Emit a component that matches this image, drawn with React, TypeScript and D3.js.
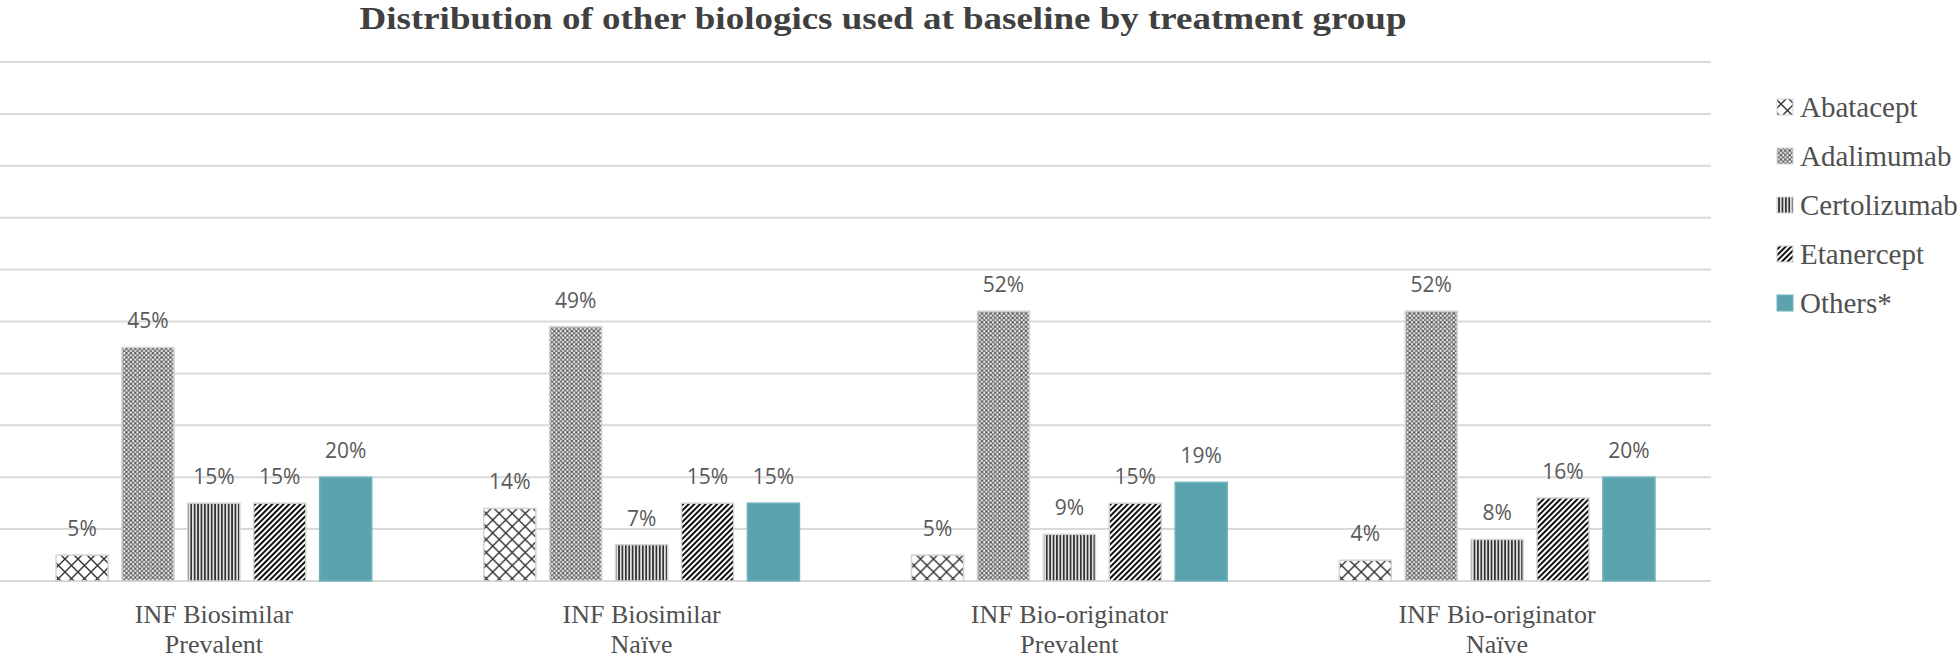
import React from "react";
import * as d3 from "d3";

const title = "Distribution of other biologics used at baseline by treatment group";
const groups = [
  ["INF Biosimilar", "Prevalent"],
  ["INF Biosimilar", "Naïve"],
  ["INF Bio-originator", "Prevalent"],
  ["INF Bio-originator", "Naïve"],
];
const seriesNames = ["Abatacept", "Adalimumab", "Certolizumab", "Etanercept", "Others*"];
const abatacept = [5, 14, 5, 4];
const adalimumab = [45, 49, 52, 52];
const certolizumab = [15, 7, 9, 8];
const etanercept = [15, 15, 15, 16];
const others = [20, 15, 19, 20];
const seriesValues = [abatacept, adalimumab, certolizumab, etanercept, others];
const yTicks = [0, 10, 20, 30, 40, 50, 60, 70, 80, 90, 100];

const fills = ["url(#pAba)", "url(#pAda)", "url(#pCer)", "url(#pEta)", "#5BA3AE"];
const strokes = ["#d4d4d4", "#d4d4d4", "#d4d4d4", "#d4d4d4", "#6fb3bd"];

export default function App() {
  const W = 1958, H = 660;
  const plotLeft = 0, plotRight = 1711, yBase = 581, yTop = 62;
  const x0 = d3.scaleBand<number>().domain(d3.range(groups.length)).range([plotLeft, plotRight]).padding(0);
  const x1 = d3
    .scaleBand<number>()
    .domain(d3.range(seriesNames.length))
    .range([0, x0.bandwidth()])
    .paddingInner(0.21)
    .paddingOuter(0.85);
  const y = d3.scaleLinear().domain([0, 100]).range([yBase, yTop]);

  return (
    <svg width={W} height={H} style={{ position: "absolute", left: 0, top: 0, background: "#fff" }}>
      <defs>
        <pattern id="pAba" patternUnits="userSpaceOnUse" width="13" height="13">
          <rect width="13" height="13" fill="#fff" />
          <path d="M0,0 L13,13 M13,0 L0,13" stroke="#333" strokeWidth="1.4" />
        </pattern>
        <pattern id="pAda" patternUnits="userSpaceOnUse" width="4.4" height="4.4">
          <rect width="4.4" height="4.4" fill="#7a7a7a" />
          <circle cx="1.1" cy="1.1" r="1.0" fill="#fff" />
          <circle cx="3.3" cy="3.3" r="1.0" fill="#fff" />
          <circle cx="3.3" cy="1.1" r="0.6" fill="#222" />
        </pattern>
        <pattern id="pCer" patternUnits="userSpaceOnUse" width="3.4" height="10">
          <rect width="3.4" height="10" fill="#e0e0e0" />
          <rect width="1.7" height="10" fill="#333" />
        </pattern>
        <pattern id="pEta" patternUnits="userSpaceOnUse" width="4" height="4" patternTransform="rotate(45)">
          <rect width="4" height="4" fill="#fff" />
          <rect width="2" height="4" fill="#111" />
        </pattern>
      </defs>

      <text
        x={883}
        y={29}
        textAnchor="middle"
        fontFamily="'Liberation Serif', 'Times New Roman', serif"
        fontWeight="bold"
        fontSize={31}
        fill="#404040"
        textLength={1047}
        lengthAdjust="spacingAndGlyphs"
      >
        {title}
      </text>

      {yTicks.map((t) => (
        <line key={t} x1={plotLeft} x2={plotRight} y1={y(t)} y2={y(t)} stroke="#d9d9d9" strokeWidth={2} />
      ))}

      {groups.map((g, gi) => (
        <g key={gi} transform={`translate(${x0(gi)},0)`}>
          {seriesValues.map((vals, si) => {
            const v = vals[gi];
            const bx = x1(si)!;
            const bw = x1.bandwidth();
            return (
              <g key={si}>
                <rect
                  x={bx}
                  y={y(v)}
                  width={bw}
                  height={yBase - y(v)}
                  fill={fills[si]}
                  stroke={strokes[si]}
                  strokeWidth={1.5}
                />
                <text
                  x={bx + bw / 2}
                  y={y(v) - 19}
                  textAnchor="middle"
                  fontFamily="'Open Sans', 'Liberation Sans', sans-serif"
                  fontSize={21}
                  fill="#595959"
                >
                  {v}%
                </text>
              </g>
            );
          })}
          <text
            x={x0.bandwidth() / 2}
            y={623}
            textAnchor="middle"
            fontFamily="'Liberation Serif', 'Times New Roman', serif"
            fontSize={26}
            fill="#505050"
          >
            <tspan x={x0.bandwidth() / 2}>{g[0]}</tspan>
            <tspan x={x0.bandwidth() / 2} dy={30}>
              {g[1]}
            </tspan>
          </text>
        </g>
      ))}

      {seriesNames.map((s, si) => {
        const cy = 107 + si * 49;
        return (
          <g key={s}>
            <rect x={1777} y={cy - 8} width={16} height={16} fill={fills[si]} stroke={strokes[si]} strokeWidth={1} />
            <text
              x={1800}
              y={cy + 10}
              fontFamily="'Liberation Serif', 'Times New Roman', serif"
              fontSize={29}
              fill="#505050"
            >
              {s}
            </text>
          </g>
        );
      })}
    </svg>
  );
}
